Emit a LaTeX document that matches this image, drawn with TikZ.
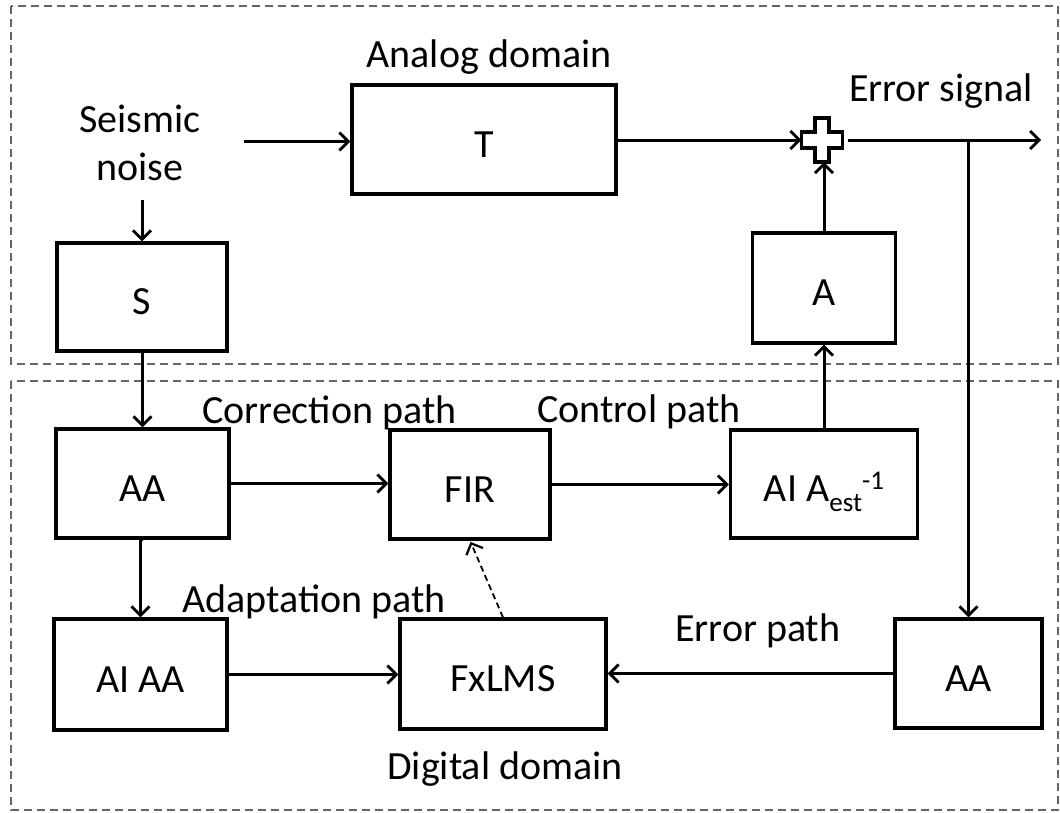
\documentclass[tikz,border=0pt]{standalone}
\usepackage{fontspec}
\setmainfont{Carlito}
\usetikzlibrary{arrows.meta}
\begin{document}
\begin{tikzpicture}[x=1pt,y=-1pt,
  font=\fontsize{40}{48}\selectfont,
  blk/.style={draw=black, line width=3.2pt, fill=white, inner sep=0pt, text height=43pt, text depth=8pt, align=center},
  arr/.style={line width=3pt, -{Straight Barb[length=9pt,width=18pt,line width=2.8pt]}},
  darr/.style={line width=1.8pt, dash pattern=on 6pt off 4pt, -{Straight Barb[length=9pt,width=18pt,line width=2.2pt,sep]}},
  lbl/.style={inner sep=0pt, anchor=base},
  lblw/.style={inner sep=0pt, anchor=base west},
  frame/.style={draw=black!60, line width=1.8pt, dash pattern=on 8pt off 5pt}]
\useasboundingbox (0,0) rectangle (1060,812);
% domain frames
\draw[frame] (11,6) rectangle (1058,364);
\draw[frame] (11,381) rectangle (1058,810);
% blocks
\node[blk, minimum width=264pt, minimum height=109pt] (T) at (484,139.5) {T};
\node[blk, minimum width=170pt, minimum height=108pt] (S) at (142,297) {S};
\node[blk, minimum width=143pt, minimum height=110pt] (A) at (824,288) {A};
\node[blk, minimum width=173pt, minimum height=109pt] (AA) at (142.5,483.5) {AA};
\node[blk, minimum width=160pt, minimum height=109pt] (FIR) at (470,484.5) {FIR};
\node[blk, minimum width=187pt, minimum height=108pt] (AIAest) at (824,484) {AI A\raisebox{-10pt}{\fontsize{27}{27}\selectfont est}\raisebox{12pt}{\fontsize{27}{27}\selectfont -1}};
\node[blk, minimum width=173pt, minimum height=111pt] (AIAA) at (140.5,674.5) {AI AA};
\node[blk, minimum width=206pt, minimum height=110pt] (FxLMS) at (503,674) {FxLMS};
\node[blk, minimum width=147pt, minimum height=109pt] (AAr) at (968.5,673.5) {AA};
% summing junction
\node[minimum width=41pt, minimum height=44pt, inner sep=0pt] (plus) at (822,140) {};
\draw[line width=3.2pt, fill=white, shift={(plus.center)}]
  (-7,-22) -- (7,-22) -- (7,-8) -- (20.5,-8) -- (20.5,8) -- (7,8) -- (7,22)
  -- (-7,22) -- (-7,8) -- (-20.5,8) -- (-20.5,-8) -- (-7,-8) -- cycle;
% labels
\node[lbl] (analog) at (489,67) {Analog domain};
\node[lbl] (errsig) at (941,101) {Error signal};
\node[lbl] (seis) at (140,132) {Seismic};
\node[lbl] (noise) at (140,180) {noise};
\node[lblw] (corr) at (202,423) {Correction path};
\node[lblw] (ctrl) at (537,422) {Control path};
\node[lblw] (adapt) at (182,612) {Adaptation path};
\node[lblw] (errp) at (675,641) {Error path};
\node[lbl] (digital) at (505,779) {Digital domain};
% free ends
\coordinate (tin) at (244,141.5);
\coordinate (snA) at (141,200);
\coordinate (outS) at (848,140);
\coordinate (outE) at (1041,140);
% connectors
\draw[arr] (tin) -- (tin -| T.west);
\draw[arr] (T.east |- plus.west) -- (plus.west);
\draw[arr] (outS) -- (outE);
\draw[arr] (AAr.north |- outE) -- (AAr.north);
\draw[arr] (A.north) -- (A.north |- plus.south);
\draw[arr] (AIAest.north) -- (A.south);
\draw[arr] (S.north |- snA) -- (S.north);
\draw[arr] (S.south) -- (S.south -| AA.north) -- (AA.north);
\draw[arr] (AA.south) -- (AA.south -| AIAA.north) -- (AIAA.north);
\draw[arr] (AA.east) -- (AA.east -| FIR.west);
\draw[arr] (FIR.east) -- (FIR.east -| AIAest.west);
\draw[arr] (AIAA.east) -- (AIAA.east -| FxLMS.west);
\draw[arr] (AAr.west) -- (AAr.west -| FxLMS.east);
\draw[darr] (FxLMS.north) -- (FIR.south);
\end{tikzpicture}
\end{document}
